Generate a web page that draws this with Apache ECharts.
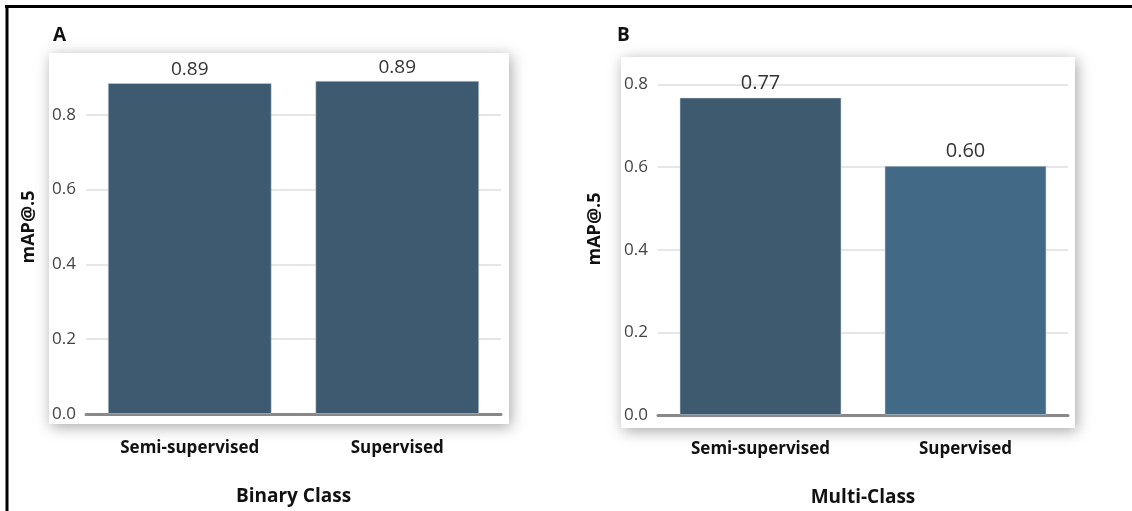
<!DOCTYPE html>
<html>
<head>
<meta charset="utf-8">
<script src="https://cdn.jsdelivr.net/npm/echarts@6/dist/echarts.min.js"></script>
<style>
html,body{margin:0;padding:0;background:#fff;}
#chart{width:1132px;height:511px;}
</style>
</head>
<body>
<div id="chart"></div>
<script>
var categories = ['Semi-supervised', 'Supervised'];
var binaryValues = [0.885, 0.891];
var multiValues = [0.768, 0.603];
var binaryColors = ['#3d5a70', '#3d5a70'];
var multiColors = ['#3d5a6e', '#426986'];
var panelTitles = ['A', 'B'];
var xAxisNames = ['Binary Class', 'Multi-Class'];
var yAxisName = 'mAP@.5';

var chart = echarts.init(document.getElementById('chart'), null, {renderer: 'canvas'});
var FONT = 'Open Sans';

function seriesData(vals, cols) {
  return vals.map(function (v, i) { return {value: v, itemStyle: {color: cols[i]}}; });
}

function yAx(idx, maxV, gap) {
  return {
    type: 'value', gridIndex: idx, min: 0, max: maxV, interval: 0.2,
    name: yAxisName, nameLocation: 'middle', nameGap: gap, nameRotate: 90,
    nameTextStyle: {fontFamily: FONT, fontWeight: 'bold', fontSize: 18, color: '#111'},
    axisLine: {show: false}, axisTick: {show: false},
    axisLabel: {showMaxLabel: false, fontFamily: FONT, fontSize: 17, color: '#444', margin: 10,
      formatter: function (v) { return v.toFixed(1); }},
    splitLine: {show: true, showMaxLine: false, lineStyle: {color: '#dedede', width: 1.5}}
  };
}

function xAx(idx, name) {
  return {
    type: 'category', gridIndex: idx, data: categories,
    name: name, nameLocation: 'middle', nameGap: 73,
    nameTextStyle: {fontFamily: FONT, fontWeight: 'bold', fontSize: 19, color: '#111'},
    axisLine: {show: true, lineStyle: {color: '#888', width: 3}},
    axisTick: {show: false},
    axisLabel: {fontFamily: FONT, fontWeight: 'bold', fontSize: 17, color: '#111', margin: 26}
  };
}

function barSeries(idx, vals, cols, fs) {
  return {
    type: 'bar', xAxisIndex: idx, yAxisIndex: idx, data: seriesData(vals, cols),
    barCategoryGap: '21%',
    itemStyle: {borderColor: 'rgba(200,215,225,0.5)', borderWidth: 1},
    label: {show: true, position: 'top', distance: 4, fontFamily: FONT, fontSize: fs, color: '#333',
      formatter: function (p) { return p.value.toFixed(2); }}
  };
}

var option = {
  animation: false,
  backgroundColor: '#fff',
  title: [
    {text: panelTitles[0], left: 48, top: 21, textStyle: {fontFamily: FONT, fontWeight: 'bold', fontSize: 19, color: '#111'}},
    {text: panelTitles[1], left: 612, top: 21, textStyle: {fontFamily: FONT, fontWeight: 'bold', fontSize: 19, color: '#111'}}
  ],
  graphic: [
    {type: 'rect', z: -10, shape: {x: 49, y: 53, width: 460, height: 371},
      style: {fill: '#fff', shadowBlur: 14, shadowColor: 'rgba(0,0,0,0.35)', shadowOffsetX: 2, shadowOffsetY: 3}},
    {type: 'rect', z: -10, shape: {x: 621, y: 57, width: 454, height: 371},
      style: {fill: '#fff', shadowBlur: 14, shadowColor: 'rgba(0,0,0,0.35)', shadowOffsetX: 2, shadowOffsetY: 3}},
    {type: 'line', z: 100, shape: {x1: 5, y1: 6.5, x2: 1132, y2: 6.5}, style: {stroke: '#000', lineWidth: 3}},
    {type: 'line', z: 100, shape: {x1: 7, y1: 5, x2: 7, y2: 511}, style: {stroke: '#000', lineWidth: 3}}
  ],
  grid: [
    {left: 86, right: 631, top: 40, height: 374, outerBoundsMode: 'none', containLabel: false},
    {left: 658, right: 64, top: 43, height: 372, outerBoundsMode: 'none', containLabel: false}
  ],
  xAxis: [xAx(0, xAxisNames[0]), xAx(1, xAxisNames[1])],
  yAxis: [yAx(0, 1.0, 48), yAx(1, 0.9, 54)],
  series: [barSeries(0, binaryValues, binaryColors, 19), barSeries(1, multiValues, multiColors, 20)]
};
chart.setOption(option);
</script>
</body>
</html>
